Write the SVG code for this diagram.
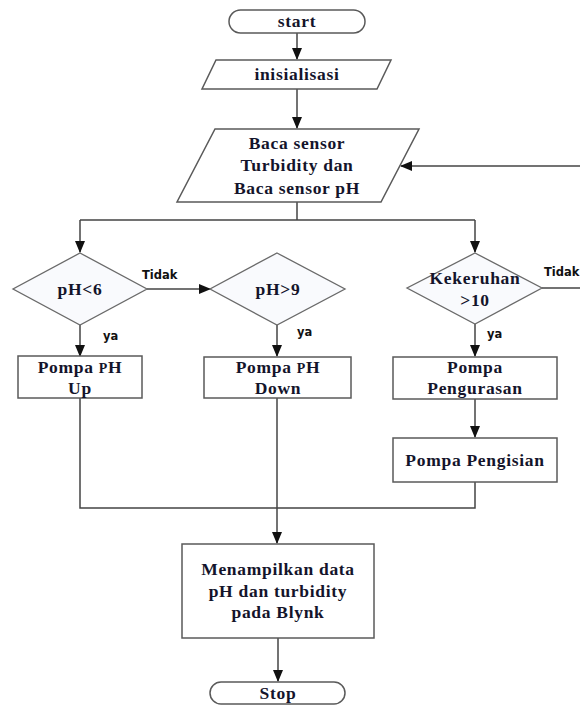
<svg xmlns="http://www.w3.org/2000/svg" width="580" height="707" viewBox="0 0 580 707">
<style>
.shape{fill:#ffffff;stroke:#5a5a5a;stroke-width:1.5}
.dia{fill:#f9fafd;stroke:#6a6a6a;stroke-width:1.3}
.t{font-family:"Liberation Serif","Times New Roman",serif;font-weight:bold;font-size:17.5px;fill:#14142b;text-anchor:middle;letter-spacing:0.7px}
.lbl{font-family:"DejaVu Sans",Verdana,sans-serif;font-size:11.5px;fill:#111;font-weight:bold}
.c{fill:none;stroke:#444;stroke-width:1.5}
</style>
<defs>
<marker id="ah" markerWidth="12" markerHeight="10" refX="11" refY="5" orient="auto" markerUnits="userSpaceOnUse">
<path d="M0,0 L12,5 L0,10 Z" fill="#111"/>
</marker>
</defs>
<g id="connectors">
<path class="c" d="M297,33 V59" marker-end="url(#ah)"/>
<path class="c" d="M297,89 V128" marker-end="url(#ah)"/>
<path class="c" d="M580,166 H401" marker-end="url(#ah)"/>
<path class="c" d="M297,202 V220 M80,220 H475"/>
<path class="c" d="M80,220 V252" marker-end="url(#ah)"/>
<path class="c" d="M475,220 V252" marker-end="url(#ah)"/>
<path class="c" d="M147,289 H210" marker-end="url(#ah)"/>
<path class="c" d="M80,325 V356" marker-end="url(#ah)"/>
<path class="c" d="M277,325 V356" marker-end="url(#ah)"/>
<path class="c" d="M475,324 V356" marker-end="url(#ah)"/>
<path class="c" d="M542,288 H580"/>
<path class="c" d="M475,399 V437" marker-end="url(#ah)"/>
<path class="c" d="M80,398 V508 H475 V482"/>
<path class="c" d="M277,398 V543" marker-end="url(#ah)"/>
<path class="c" d="M278,638 V681" marker-end="url(#ah)"/>
<text class="lbl" x="142" y="279">Tidak</text>
<text class="lbl" x="544" y="276">Tidak</text>
<text class="lbl" x="103" y="340">ya</text>
<text class="lbl" x="297" y="336">ya</text>
<text class="lbl" x="487" y="338">ya</text>
</g>
<g id="start">
<rect class="shape" x="229" y="10" width="136" height="23" rx="11.5"/>
<text class="t" x="297" y="27">start</text>
</g>
<g id="inisialisasi">
<polygon class="shape" points="216,60 391,60 377,89 202,89"/>
<text class="t" x="297" y="80">inisialisasi</text>
</g>
<g id="baca">
<polygon class="shape" points="215,129 419,129 381,202 177,202"/>
<text class="t" x="297" y="149">Baca sensor</text>
<text class="t" x="297" y="171">Turbidity dan</text>
<text class="t" x="297" y="194">Baca sensor pH</text>
</g>
<g id="ph6">
<polygon class="dia" points="80,253 147,289 80,325 13,289"/>
<text class="t" x="80" y="295">pH&lt;6</text>
</g>
<g id="ph9">
<polygon class="dia" points="277,253 345,289 277,325 210,289"/>
<text class="t" x="278" y="295">pH&gt;9</text>
</g>
<g id="kekeruhan">
<polygon class="dia" points="475,253 542,288 475,324 407,288"/>
<text class="t" x="475" y="284">Kekeruhan</text>
<text class="t" x="475" y="306">&gt;10</text>
</g>
<g id="pompaUp">
<rect class="shape" x="18" y="356" width="124" height="42"/>
<text class="t" x="80" y="373">Pompa <tspan font-size="14px">P</tspan>H</text>
<text class="t" x="80" y="394">Up</text>
</g>
<g id="pompaDown">
<rect class="shape" x="204" y="357" width="147" height="41"/>
<text class="t" x="278" y="373">Pompa <tspan font-size="14px">P</tspan>H</text>
<text class="t" x="278" y="394">Down</text>
</g>
<g id="pengurasan">
<rect class="shape" x="393" y="357" width="164" height="42"/>
<text class="t" x="475" y="373">Pompa</text>
<text class="t" x="475" y="394">Pengurasan</text>
</g>
<g id="pengisian">
<rect class="shape" x="393" y="438" width="164" height="44"/>
<text class="t" x="475" y="466">Pompa Pengisian</text>
</g>
<g id="menampilkan">
<rect class="shape" x="182" y="544" width="192" height="94"/>
<text class="t" x="278" y="575">Menampilkan data</text>
<text class="t" x="278" y="597">pH dan turbidity</text>
<text class="t" x="278" y="618">pada Blynk</text>
</g>
<g id="stop">
<rect class="shape" x="210" y="682" width="135" height="22" rx="11"/>
<text class="t" x="278" y="699">Stop</text>
</g>
</svg>
